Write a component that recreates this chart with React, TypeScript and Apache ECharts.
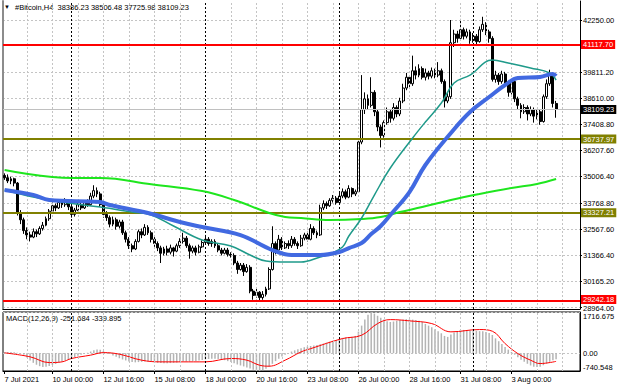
import React, { useEffect, useRef } from "react";
import * as echarts from "echarts";

// ---------- data ----------
const startTime = Date.UTC(2021, 6, 7, 12, 0, 0); // first H4 bar
const slotCount = 181; // bars plus the empty right shift
const categories: string[] = Array.from({ length: slotCount }, (_, i) => {
  const d = new Date(startTime + i * 4 * 3600 * 1000);
  return `${d.getUTCFullYear()}.${d.getUTCMonth() + 1}.${d.getUTCDate()} ${String(d.getUTCHours()).padStart(2, "0")}:00`;
});

// [open, close, low, high]
const candles: number[][] = [
  [35050, 34950, 34850, 35150], [34950, 34800, 34700, 35100], [34800, 34900, 34650, 35000], [34900, 34700, 34550, 34950], [34700, 33300, 33200, 34750],
  [33300, 33000, 32800, 33450], [33000, 32500, 32350, 33100], [32500, 32300, 32100, 32650], [32300, 32200, 32000, 32450], [32200, 32450, 32150, 32600],
  [32450, 32350, 32200, 32550], [32350, 32600, 32300, 32700], [32600, 32750, 32500, 32900], [32750, 33050, 32700, 33150], [33050, 33400, 32950, 33500],
  [33400, 33650, 33350, 33800], [33650, 33550, 33400, 33750], [33550, 33800, 33500, 33950], [33800, 33700, 33550, 33900], [33700, 33900, 33600, 34000],
  [33900, 33600, 33450, 33950], [33600, 33250, 33100, 33700], [33250, 33450, 33150, 33550], [33450, 33700, 33400, 33800], [33700, 33550, 33450, 33800],
  [33550, 33800, 33500, 33900], [33800, 33700, 33600, 33950], [33700, 34100, 33650, 34250], [34100, 34350, 34000, 34600], [34350, 34200, 34050, 34500],
  [34200, 33700, 33600, 34300], [33700, 33250, 33100, 33800], [33250, 33100, 32950, 33400], [33100, 32800, 32650, 33200], [32800, 33000, 32700, 33150],
  [33000, 32700, 32550, 33100], [32700, 32900, 32600, 33000], [32900, 32400, 32300, 33000], [32400, 32100, 31950, 32500], [32100, 31800, 31650, 32200],
  [31800, 31650, 31500, 31900], [31650, 32000, 31600, 32100], [32000, 32450, 31950, 32550], [32450, 32300, 32150, 32600], [32300, 32650, 32250, 32800],
  [32650, 32400, 32300, 32750], [32400, 32100, 31950, 32500], [32100, 31900, 31750, 32200], [31900, 31700, 31550, 32000], [31700, 31450, 31000, 31800],
  [31450, 31650, 31350, 31750], [31650, 31500, 31350, 31800], [31500, 31700, 31400, 31850], [31700, 31550, 31300, 31750], [31550, 31800, 31500, 31900],
  [31800, 32000, 31700, 32150], [32000, 32150, 31900, 32400], [32150, 31800, 31700, 32250], [31800, 31550, 31200, 31900], [31550, 31700, 31450, 31800],
  [31700, 31500, 31350, 31800], [31500, 31750, 31450, 31850], [31750, 31950, 31700, 32050], [31950, 32100, 31850, 32300], [32100, 31900, 31800, 32200],
  [31900, 32000, 31750, 32100], [32000, 31800, 31700, 32100], [31800, 31600, 31500, 31900], [31600, 31450, 31350, 31700], [31450, 31600, 31400, 31700],
  [31600, 31400, 31300, 31700], [31400, 31350, 31250, 31500], [31350, 31000, 30900, 31450], [31000, 30700, 30500, 31100], [30700, 30900, 30650, 31000],
  [30900, 30600, 30400, 31000], [30600, 30800, 30550, 30950], [30800, 29700, 29600, 30900], [29700, 29500, 29300, 29800], [29500, 29650, 29400, 29850],
  [29650, 29400, 29270, 29700], [29400, 29550, 29300, 29700], [29550, 29800, 29450, 29900], [29800, 30700, 29750, 30800], [30700, 31900, 30650, 32700],
  [31900, 31600, 31400, 32000], [31600, 32100, 31550, 32300], [32100, 31700, 31600, 32200], [31700, 31900, 31650, 32000], [31900, 31800, 31650, 32050],
  [31800, 32100, 31700, 32250], [32100, 31900, 31800, 32200], [31900, 31800, 31650, 32000], [31800, 32150, 31750, 32300], [32150, 32300, 32050, 32400],
  [32300, 32100, 32000, 32450], [32100, 32600, 32050, 32800], [32600, 32400, 32300, 32700], [32400, 32300, 32150, 32500], [32300, 33550, 32250, 33700],
  [33550, 33750, 33450, 33900], [33750, 33650, 33500, 33850], [33650, 33900, 33600, 34000], [33900, 34000, 33800, 34150], [34000, 33800, 33700, 34100],
  [33800, 34100, 33750, 34300], [34100, 34300, 34000, 34450], [34300, 34050, 33950, 34400], [34050, 34450, 34000, 34600], [34450, 34200, 34050, 34500],
  [34200, 34300, 34100, 34400], [34300, 36600, 34250, 36700], [36600, 38100, 36500, 39700], [38100, 38600, 37900, 38900], [38600, 38300, 38100, 38800],
  [38300, 38900, 38200, 39600], [38900, 38000, 37800, 39000], [38000, 37300, 37100, 38100], [37300, 36900, 36350, 37400], [36900, 37500, 36800, 37600],
  [37500, 38000, 37400, 38200], [38000, 37700, 37500, 38100], [37700, 38200, 37600, 38400], [38200, 37900, 37750, 38300], [37900, 38500, 37800, 38650],
  [38500, 39100, 38400, 39300], [39100, 39600, 39000, 39800], [39600, 39300, 39100, 39700], [39300, 39900, 39200, 40600], [39900, 39700, 39500, 40100],
  [39700, 40000, 39600, 40200], [40000, 39600, 39500, 40100], [39600, 39800, 39450, 40000], [39800, 39650, 39500, 39900], [39650, 39900, 39550, 40050],
  [39900, 39700, 39550, 40000], [39700, 39900, 39600, 40300], [39900, 39400, 39300, 40000], [39400, 38500, 38200, 39500], [38500, 38700, 38400, 38900],
  [38700, 41200, 38600, 42250], [41200, 41600, 41000, 41800], [41600, 41400, 41200, 41750], [41400, 41800, 41300, 42300], [41800, 41500, 41350, 41900],
  [41500, 41700, 41400, 41850], [41700, 41300, 41150, 41800], [41300, 41500, 41200, 41650], [41500, 41250, 41050, 41600], [41250, 41800, 41200, 41950],
  [41800, 42050, 41700, 42400], [42050, 41700, 41550, 42150], [41700, 41400, 41200, 41800], [41400, 39500, 39400, 41500], [39500, 39700, 39350, 39900],
  [39700, 39400, 39250, 39800], [39400, 39750, 39300, 39900], [39750, 39300, 39150, 39850], [39300, 38900, 38700, 39400], [38900, 39400, 38800, 39500],
  [39400, 38600, 38450, 39450], [38600, 38300, 38100, 38700], [38300, 38000, 37700, 38400], [38000, 38200, 37900, 38350], [38200, 37900, 37600, 38300],
  [37900, 38100, 37800, 38250], [38100, 37800, 37500, 38200], [37800, 38000, 37650, 38100], [38000, 37550, 37400, 38100], [37550, 38700, 37500, 38800],
  [38700, 39300, 38600, 39500], [39300, 39700, 39200, 39950], [39700, 38386.23, 38200, 39800], [38386.23, 38109.23, 37725.98, 38506.48],
];

// moving averages: [bar index, price]
const ma200: number[][] = [
  [0, 35305], [21, 34935], [30, 34935], [46, 34650], [62, 34330], [72, 33916], [83, 33314], [88, 33129], [93, 33083],
  [102, 32990], [112, 33036], [118, 33129], [124, 33360], [131, 33590], [140, 33916], [149, 34194], [159, 34472], [167, 34657], [173, 34888],
];
const ma50: number[][] = [
  [0, 34380], [9, 34055], [20, 33777], [30, 33592], [40, 33360], [46, 33221], [53, 32712], [62, 32064], [71, 31786], [77, 31370],
  [82, 31092], [88, 31045], [93, 31045], [99, 31277], [102, 31416], [106, 31740], [108, 32250], [112, 33083], [116, 34147], [121, 35398],
  [128, 36787], [132, 37527], [137, 38407], [141, 39333], [146, 39703], [153, 40398], [158, 40259], [165, 40028], [171, 39796], [173, 39472],
];
const ma100: number[][] = [
  [0, 34380], [9, 34148], [14, 33916], [30, 33823], [33, 33684], [45, 33314], [55, 32897], [62, 32666], [74, 32295], [84, 31601],
  [90, 31370], [99, 31370], [105, 31508], [108, 31694], [112, 31925], [115, 32341], [118, 32712], [121, 33222], [127, 34286], [132, 35537],
  [140, 37018], [146, 37990], [152, 38685], [157, 39240], [161, 39565], [168, 39611], [172, 39750], [173, 39657],
];

const macdHist: number[] = [
  50, 55, 50, 40, 20, -10, -60, -180, -300, -400,
  -480, -540, -570, -560, -530, -490, -450, -400, -350, -300,
  -260, -210, -160, -110, -60, -20, 20, 70, 120, 150,
  140, 90, 30, -30, -90, -150, -210, -260, -300, -340,
  -370, -380, -370, -360, -350, -350, -360, -380, -400, -410,
  -420, -420, -410, -400, -390, -370, -350, -340, -340, -330,
  -320, -300, -280, -260, -240, -230, -230, -240, -260, -290,
  -330, -370, -420, -470, -510, -550, -590, -640, -690, -720,
  -740, -710, -650, -560, -440, -330, -230, -140, -60, 10,
  70, 120, 170, 210, 250, 280, 300, 320, 340, 370,
  400, 440, 480, 520, 550, 600, 640, 660, 680, 690,
  720, 900, 1150, 1400, 1600, 1716.675, 1650, 1560, 1480, 1400,
  1330, 1300, 1320, 1350, 1380, 1400, 1420, 1410, 1400, 1380,
  1350, 1300, 1220, 1150, 1080, 1000, 920, 830, 720, 680,
  780, 860, 920, 960, 970, 960, 950, 940, 930, 920,
  920, 880, 840, 760, 620, 500, 380, 260, 150, 50,
  -60, -170, -270, -360, -440, -510, -560, -570, -560, -500,
  -430, -360, -290, -251.684,
];
const macdSignal: number[][] = [
  [0, 15], [8, -150], [14, -390], [18, -360], [21, -220], [27, -80], [31, 25], [36, -40], [43, -290], [49, -360],
  [63, -360], [71, -220], [76, -290], [80, -500], [83, -540], [88, -290], [93, 55], [96, 190], [106, 610], [112, 750],
  [117, 1235], [121, 1400], [127, 1347], [134, 1235], [140, 890], [149, 986], [153, 917], [157, 400], [161, -15],
  [165, -290], [168, -430], [173, -339.895],
];

const priceTicks = [42250.0, 39811.2, 38610.0, 37408.8, 36207.6, 35006.4, 33768.8, 32567.6, 31366.4, 30165.2, 28964.0];
const macdTicks = [-740.548, 0, 1716.675];
const redLevels = [41117.7, 29242.18];
const oliveLevels = [36737.97, 33327.21];
const xTickBars = [0, 15, 31, 47, 63, 79, 95, 111, 127, 143, 159];
const xTickLabels = ["7 Jul 2021", "10 Jul 00:00", "12 Jul 16:00", "15 Jul 08:00", "18 Jul 00:00", "20 Jul 16:00",
  "23 Jul 08:00", "26 Jul 00:00", "28 Jul 16:00", "31 Jul 08:00", "3 Aug 00:00"];
const xGridBars = [7, 15, 23, 31, 39, 47, 55, 63, 71, 79, 87, 95, 103, 111, 119, 127, 135, 143, 151, 159, 167, 175];
const weekBars = [21, 63, 105, 147];
const priceMin = 28871;
const priceMax = 43130;

// ---------- chart ----------
const FONT = "'Liberation Sans', Arial, sans-serif";
const FS = 7.5;

function buildOption(): any {
  const last = candles[candles.length - 1];
  const lastClose = last[1];
  const lowestTick = Math.min(...priceTicks);
  const lowestLevel = Math.min(...redLevels);
  const title = `#Bitcoin,H4  ${last[0].toFixed(2)} ${last[3].toFixed(2)} ${last[2].toFixed(2)} ${last[1].toFixed(2)}`;
  const macdTitle = `MACD(12,26,9) ${macdHist[macdHist.length - 1].toFixed(3)} ${macdSignal[macdSignal.length - 1][1].toFixed(3)}`;
  const isTick = (index: number) => xTickBars.indexOf(index) >= 0;
  const dashedGray = { color: "#c4c4c4", width: 1, type: [2, 2] };
  const dottedBlack = { color: "#000", width: 1, type: [2, 2] };
  const vLines = [
    ...xGridBars.map((b) => ({ xAxis: b, lineStyle: dashedGray })),
    ...weekBars.map((b) => ({ xAxis: b, lineStyle: dottedBlack })),
  ];
  const levelLabel = (v: number, bg: string) => ({
    show: true, position: "end", formatter: v.toFixed(2), backgroundColor: bg, color: "#fff",
    padding: [1, 2, 0, 2], lineHeight: 8, distance: 1, fontSize: FS, fontFamily: FONT,
    offset: v === lowestLevel ? [0, -1.5] : [0, 0],
  });
  const levelLines = [
    { yAxis: lastClose, lineStyle: { color: "#c0c0c0", width: 1, type: "solid" }, label: levelLabel(lastClose, "#000") },
    ...redLevels.map((v) => ({ yAxis: v, lineStyle: { color: "#ff0000", width: 2, type: "solid" }, label: levelLabel(v, "#ff0000") })),
    ...oliveLevels.map((v) => ({ yAxis: v, lineStyle: { color: "#808000", width: 2, type: "solid" }, label: levelLabel(v, "#808000") })),
  ];

  return {
    animation: false,
    backgroundColor: "#fff",
    textStyle: { fontFamily: FONT },
    grid: [
      { left: 3, right: 40, top: 1, height: 308 },
      { left: 3, right: 40, top: 312, height: 59, show: true, borderColor: "#000", borderWidth: 1, backgroundColor: "transparent" },
    ],
    xAxis: [
      {
        type: "category", gridIndex: 0, data: categories, boundaryGap: true,
        axisLine: { show: true, onZero: false, lineStyle: { color: "#000" } },
        axisTick: { show: false }, axisLabel: { show: false }, splitLine: { show: false },
      },
      {
        type: "category", gridIndex: 1, data: categories, boundaryGap: true,
        axisLine: { show: true, onZero: false, lineStyle: { color: "#000" } },
        axisTick: { show: true, alignWithLabel: true, interval: isTick, length: 3, lineStyle: { color: "#000" } },
        axisLabel: {
          show: true, interval: isTick, align: "left", fontSize: FS, color: "#000", margin: 4, fontFamily: FONT,
          formatter: (_v: string, i: number) => { const k = xTickBars.indexOf(i); return k >= 0 ? xTickLabels[k] : ""; },
        },
        splitLine: { show: false },
      },
    ],
    yAxis: [
      {
        type: "value", gridIndex: 0, position: "right", min: priceMin, max: priceMax,
        axisLine: { show: true, lineStyle: { color: "#000" } },
        axisTick: { show: true, length: 2, customValues: priceTicks, lineStyle: { color: "#000" } },
        axisLabel: {
          customValues: priceTicks,
          formatter: (v: number) => (v === lowestTick ? `{low|${v.toFixed(2)}}` : v.toFixed(2)),
          rich: { low: { padding: [3, 0, 0, 0], fontSize: FS, fontFamily: FONT, color: "#000" } },
          fontSize: FS, color: "#000", margin: 3, fontFamily: FONT,
        },
        splitLine: { show: true, lineStyle: { color: "#c4c4c4", type: [2, 2] } },
      },
      {
        type: "value", gridIndex: 0, position: "left", min: priceMin, max: priceMax,
        axisLine: { show: true, lineStyle: { color: "#8c8c8c", width: 2 } },
        axisTick: { show: false }, axisLabel: { show: false }, splitLine: { show: false },
      },
      {
        type: "value", gridIndex: 1, position: "right", min: macdTicks[0], max: macdTicks[2],
        axisLine: { show: true, lineStyle: { color: "#000" } },
        axisTick: { show: false, customValues: macdTicks },
        axisLabel: {
          customValues: macdTicks, fontSize: FS, color: "#000", margin: 3, fontFamily: FONT,
          verticalAlignMinLabel: "bottom", verticalAlignMaxLabel: "top",
          formatter: (v: number) => (v === 0 ? "0.00" : v.toFixed(3)),
        },
        splitLine: { show: true, lineStyle: { color: "#c4c4c4", type: [2, 2] } },
      },
    ],
    graphic: [
      { type: "text", left: 4, top: 4, style: { text: "▼", fontSize: 6, fill: "#000" } },
      { type: "text", left: 15, top: 3, style: { text: title, fontSize: FS, fill: "#000", fontFamily: FONT } },
      { type: "text", left: 6, top: 314, style: { text: macdTitle, fontSize: FS, fill: "#000", fontFamily: FONT } },
    ],
    series: [
      {
        type: "line", xAxisIndex: 0, yAxisIndex: 0, data: [], z: 1, silent: true,
        markLine: { silent: true, symbol: ["none", "none"], label: { show: false }, data: vLines },
      },
      {
        type: "candlestick", xAxisIndex: 0, yAxisIndex: 0, data: candles, barWidth: 2.4, z: 3,
        itemStyle: { color: "#ffffff", color0: "#000000", borderColor: "#000000", borderColor0: "#000000", borderWidth: 1 },
      },
      {
        type: "line", xAxisIndex: 0, yAxisIndex: 0, data: [], z: 4, silent: true,
        markLine: { silent: true, symbol: ["none", "none"], data: levelLines },
      },
      {
        type: "line", xAxisIndex: 0, yAxisIndex: 0, data: ma200, smooth: 0.4, symbol: "none", z: 5,
        lineStyle: { color: "#1ee61e", width: 2 },
      },
      {
        type: "line", xAxisIndex: 0, yAxisIndex: 0, data: ma50, smooth: 0.4, symbol: "none", z: 5,
        lineStyle: { color: "#1f9a8a", width: 1.5 },
      },
      {
        type: "line", xAxisIndex: 0, yAxisIndex: 0, data: ma100, smooth: 0.4, symbol: "none", z: 6,
        lineStyle: { color: "#4169e1", width: 4 },
      },
      {
        type: "line", xAxisIndex: 1, yAxisIndex: 2, data: [], z: 1, silent: true,
        markLine: { silent: true, symbol: ["none", "none"], label: { show: false }, data: vLines },
      },
      {
        type: "bar", xAxisIndex: 1, yAxisIndex: 2, data: macdHist, barWidth: 1.5, z: 2,
        itemStyle: { color: "#b4b4b4" },
      },
      {
        type: "line", xAxisIndex: 1, yAxisIndex: 2, data: macdSignal, smooth: 0.4, symbol: "none", z: 4,
        lineStyle: { color: "#ff0000", width: 1 },
      },
    ],
  };
}

export default function App() {
  const ref = useRef<HTMLDivElement>(null);
  useEffect(() => {
    document.body.style.margin = "0";
    if (!ref.current) return;
    const chart = echarts.init(ref.current, undefined, { renderer: "svg" });
    chart.setOption(buildOption());
    return () => chart.dispose();
  }, []);
  return <div ref={ref} style={{ width: 620, height: 388 }} />;
}
